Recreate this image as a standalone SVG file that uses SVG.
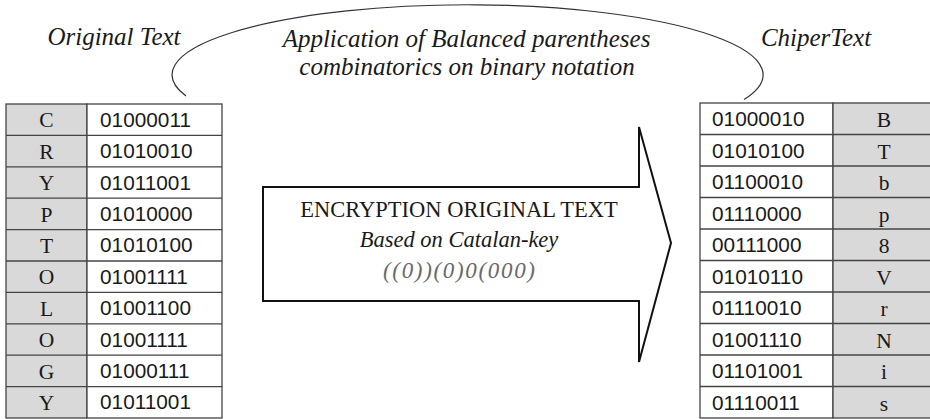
<svg xmlns="http://www.w3.org/2000/svg" width="930" height="419" viewBox="0 0 930 419">
  <style>
    .title { font-family: "Liberation Serif", "Times New Roman", serif; font-style: italic; font-size: 25px; fill: #1a1a1a; }
    .body { font-family: "Liberation Serif", "Times New Roman", serif; font-size: 22.5px; fill: #1a1a1a; }
    .key { font-family: "Liberation Serif", "Times New Roman", serif; font-style: italic; font-size: 22.5px; fill: #1a1a1a; }
    .paren { font-family: "Liberation Serif", "Times New Roman", serif; font-style: italic; font-size: 23px; fill: #6a6a6a; }
    .letter { font-family: "Liberation Serif", "Times New Roman", serif; font-size: 21.5px; fill: #1a1a1a; text-anchor: middle; }
    .bits { font-family: "Liberation Sans", Arial, sans-serif; font-size: 20.8px; fill: #1a1a1a; }
    .cellG { fill: #d9d9d9; stroke: #444; stroke-width: 1.3; }
    .cellW { fill: #ffffff; stroke: #444; stroke-width: 1.3; }
    .arc { fill: none; stroke: #333; stroke-width: 1.2; }
    .arrow { fill: #ffffff; stroke: #111; stroke-width: 2; stroke-linejoin: miter; }
  </style>

  <!-- captions -->
  <g id="caption-original">
    <text class="title" x="114" y="45" text-anchor="middle">Original Text</text>
  </g>
  <g id="caption-cipher">
    <text class="title" x="816" y="46" text-anchor="middle">ChiperText</text>
  </g>

  <!-- curved link over the process description -->
  <g id="connectors">
    <path class="arc" d="M 186 96 A 295.5 70 0 1 1 744 99.5"/>
  </g>
  <g id="process-label">
    <text class="title" x="466.5" y="47" text-anchor="middle">Application of Balanced parentheses</text>
    <text class="title" x="467" y="75" text-anchor="middle">combinatorics on binary notation</text>
  </g>

  <!-- plaintext table -->
  <g id="plain-table">
    <rect class="cellG" x="6" y="104" width="81" height="314"/>
    <rect class="cellW" x="87" y="104" width="135" height="314"/>
    <g stroke="#444" stroke-width="1.3">
      <line x1="6" y1="135.4" x2="222" y2="135.4"/>
      <line x1="6" y1="166.8" x2="222" y2="166.8"/>
      <line x1="6" y1="198.2" x2="222" y2="198.2"/>
      <line x1="6" y1="229.6" x2="222" y2="229.6"/>
      <line x1="6" y1="261" x2="222" y2="261"/>
      <line x1="6" y1="292.4" x2="222" y2="292.4"/>
      <line x1="6" y1="323.8" x2="222" y2="323.8"/>
      <line x1="6" y1="355.2" x2="222" y2="355.2"/>
      <line x1="6" y1="386.6" x2="222" y2="386.6"/>
    </g>
    <g>
      <text class="letter" x="46.5" y="127.3">C</text>
      <text class="letter" x="46.5" y="158.7">R</text>
      <text class="letter" x="46.5" y="190.1">Y</text>
      <text class="letter" x="46.5" y="221.5">P</text>
      <text class="letter" x="46.5" y="252.9">T</text>
      <text class="letter" x="46.5" y="284.3">O</text>
      <text class="letter" x="46.5" y="315.7">L</text>
      <text class="letter" x="46.5" y="347.1">O</text>
      <text class="letter" x="46.5" y="378.5">G</text>
      <text class="letter" x="46.5" y="409.9">Y</text>
    </g>
    <g>
      <text class="bits" x="100" y="126.7">01000011</text>
      <text class="bits" x="100" y="158.1">01010010</text>
      <text class="bits" x="100" y="189.5">01011001</text>
      <text class="bits" x="100" y="220.9">01010000</text>
      <text class="bits" x="100" y="252.3">01010100</text>
      <text class="bits" x="100" y="283.7">01001111</text>
      <text class="bits" x="100" y="315.1">01001100</text>
      <text class="bits" x="100" y="346.5">01001111</text>
      <text class="bits" x="100" y="377.9">01000111</text>
      <text class="bits" x="100" y="409.3">01011001</text>
    </g>
  </g>

  <!-- encryption arrow -->
  <g id="encryption-arrow">
    <polygon class="arrow" points="263,187 639,187 639,127 671,243 639,362 639,301 263,301"/>
    <text class="body" x="459" y="217" text-anchor="middle">ENCRYPTION ORIGINAL TEXT</text>
    <text class="key" x="459" y="247" text-anchor="middle">Based on Catalan-key</text>
    <text class="paren" x="459" y="278" text-anchor="middle" textLength="152" lengthAdjust="spacing">((0))(0)0(000)</text>
  </g>

  <!-- ciphertext table -->
  <g id="cipher-table">
    <rect class="cellW" x="700" y="103" width="133" height="315"/>
    <rect class="cellG" x="833" y="103" width="102" height="315"/>
    <g stroke="#444" stroke-width="1.3">
      <line x1="700" y1="134.5" x2="935" y2="134.5"/>
      <line x1="700" y1="166" x2="935" y2="166"/>
      <line x1="700" y1="197.5" x2="935" y2="197.5"/>
      <line x1="700" y1="229" x2="935" y2="229"/>
      <line x1="700" y1="260.5" x2="935" y2="260.5"/>
      <line x1="700" y1="292" x2="935" y2="292"/>
      <line x1="700" y1="323.5" x2="935" y2="323.5"/>
      <line x1="700" y1="355" x2="935" y2="355"/>
      <line x1="700" y1="386.5" x2="935" y2="386.5"/>
    </g>
    <g>
      <text class="bits" x="712" y="126">01000010</text>
      <text class="bits" x="712" y="157.5">01010100</text>
      <text class="bits" x="712" y="189">01100010</text>
      <text class="bits" x="712" y="220.5">01110000</text>
      <text class="bits" x="712" y="252">00111000</text>
      <text class="bits" x="712" y="283.5">01010110</text>
      <text class="bits" x="712" y="315">01110010</text>
      <text class="bits" x="712" y="346.5">01001110</text>
      <text class="bits" x="712" y="378">01101001</text>
      <text class="bits" x="712" y="409.5">01110011</text>
    </g>
    <g>
      <text class="letter" x="884" y="127">B</text>
      <text class="letter" x="884" y="158.5">T</text>
      <text class="letter" x="884" y="190">b</text>
      <text class="letter" x="884" y="221.5">p</text>
      <text class="letter" x="884" y="253">8</text>
      <text class="letter" x="884" y="284.5">V</text>
      <text class="letter" x="884" y="316">r</text>
      <text class="letter" x="884" y="347.5">N</text>
      <text class="letter" x="884" y="379">i</text>
      <text class="letter" x="884" y="410.5">s</text>
    </g>
  </g>
</svg>
